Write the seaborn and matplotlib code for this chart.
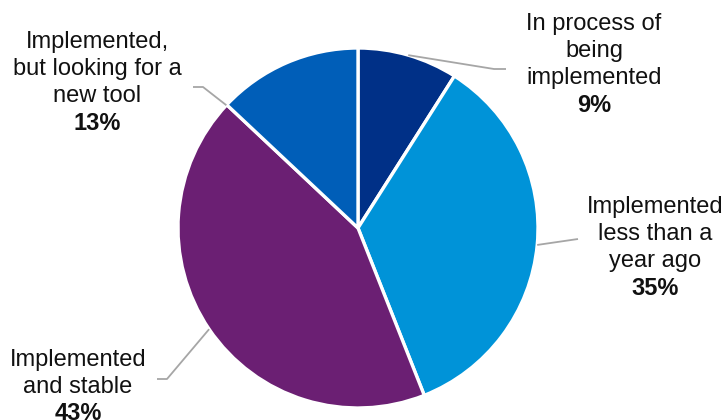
import matplotlib
matplotlib.use("Agg")
import matplotlib.pyplot as plt
import seaborn as sns
import numpy as np

# Tool adoption status shares (percent)
categories = [
    "In process of\nbeing\nimplemented",
    "Implemented\nless than a\nyear ago",
    "Implemented\nand stable",
    "Implemented,\nbut looking for a\nnew tool",
]
shares = [9, 35, 43, 13]
colors = ["#003087", "#0093D8", "#6B1F73", "#005EB8"]

sns.set_theme(style="white")
plt.rcParams["font.family"] = ["Liberation Sans", "DejaVu Sans"]

W, H = 728, 420
fig = plt.figure(figsize=(W / 100, H / 100), dpi=100)
cx, cy, r = 358, 228, 180
ax = fig.add_axes([(cx - r) / W, (H - cy - r) / H, 2 * r / W, 2 * r / H])

wedges, _ = ax.pie(
    shares, colors=colors, startangle=90, counterclock=False, radius=1,
    wedgeprops=dict(edgecolor="white", linewidth=2.4),
)
ax.set_xlim(-1, 1)
ax.set_ylim(-1, 1)
ax.set_aspect("equal")
ax.axis("off")


def px(x, y):
    """Pixel position -> data coordinates of the pie axes."""
    return (x - cx) / r, (cy - y) / r


# label centre x and first baseline (px), leader anchor angle (deg), elbow, line end
layout = [
    dict(text=(594, 30), anchor=None, elbow=(494, 69), end=(506, 69)),
    dict(text=(655, 213), anchor=None, elbow=(578, 239), end=(578, 239)),
    dict(text=(78, 366), anchor=None, elbow=(167, 379), end=(157, 379)),
    dict(text=(97, 48), anchor=137.0, elbow=(203, 87), end=(193, 87)),
]
LINE = 27.2
FS = 17

for w, cat, val, lay in zip(wedges, categories, shares, layout):
    ang = lay["anchor"] if lay["anchor"] is not None else (w.theta1 + w.theta2) / 2
    ex, ey = np.cos(np.radians(ang)), np.sin(np.radians(ang))
    bx, by = px(*lay["elbow"])
    fx, fy = px(*lay["end"])
    ax.plot([ex, bx, fx], [ey, by, fy], color="#A6A6A6", lw=1.3,
            clip_on=False, solid_capstyle="butt")
    x0, y0 = lay["text"]
    lines = cat.split("\n")
    for i, line in enumerate(lines):
        ax.text(*px(x0, y0 + i * LINE), line, ha="center", va="baseline",
                fontsize=FS, color="#111111", clip_on=False)
    # bold percentage below the category text
    ax.text(*px(x0, y0 + len(lines) * LINE), f"{val}%", ha="center",
            va="baseline", fontsize=FS, fontweight="bold", color="#111111",
            clip_on=False)

fig.savefig("out.png", dpi=100)
